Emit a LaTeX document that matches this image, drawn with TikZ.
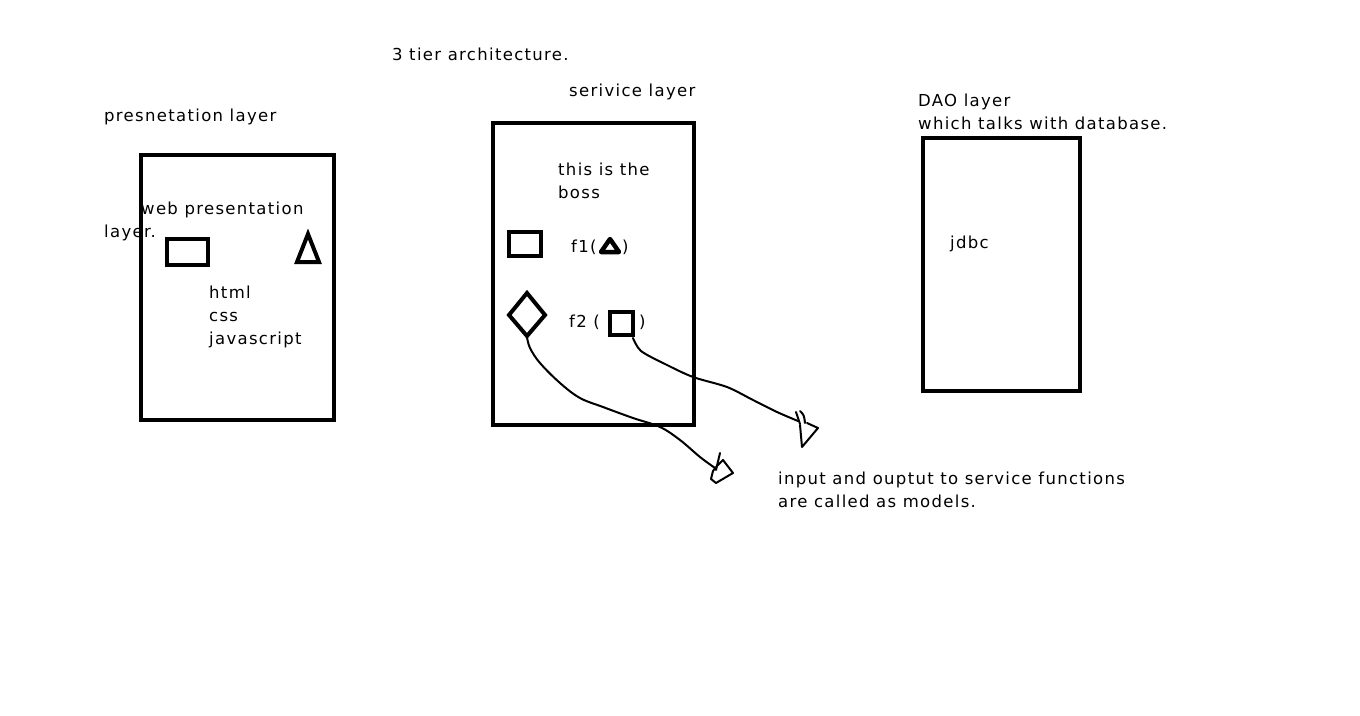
\documentclass[tikz,border=0pt]{standalone}
\usepackage{fontspec}
\setmainfont{DejaVu Sans}[LetterSpace=8]

\tikzset{
    layerbox/.style={line width=4.5pt},
    icon/.style={line width=4pt},
    scrawl/.style={line width=2pt, line join=round, line cap=round},
    txt/.style={anchor=base west, inner sep=0pt, font=\fontsize{16.5}{23}\selectfont},
}

\begin{document}
\begin{tikzpicture}[x=1pt,y=-1pt]
    \useasboundingbox[fill=white] (0,0) rectangle (1360,715);

    % headings
    \node[txt] (title) at (392,60) {3 tier architecture.};
    \node[txt] (prestitle) at (104,121) {presnetation layer};
    \node[txt] (servtitle) at (569,96) {serivice layer};
    \node[txt] (daotitle) at (918,106) {DAO layer};
    \node[txt] (daonote) at (918,129) {which talks with database.};

    % the three layers
    \draw[layerbox] (141,155) rectangle (334,420);
    \draw[layerbox] (493,123) rectangle (694,425);
    \draw[layerbox] (923,138) rectangle (1080,391);

    % presentation layer
    \node[txt] (web) at (141,214) {web presentation};
    \node[txt] (webb) at (104,237) {layer.};
    \draw[icon] (167,239) rectangle (208,265);
    \draw[icon] (308,234) -- (319,262) -- (297,262) -- cycle;
    \node[txt] (html) at (209,298) {html};
    \node[txt] (css) at (209,321) {css};
    \node[txt] (js) at (209,344) {javascript};

    % service layer
    \node[txt] (boss) at (558,175) {this is the};
    \node[txt] (bossb) at (558,198) {boss};
    \draw[icon] (509,232) rectangle (541,256);
    \node[txt] (fone) at (571,252) {f1(};
    \draw[icon, line width=4.5pt, line join=round] (610,239) -- (619,252) -- (601,252) -- cycle;
    \node[txt] (fonec) at (622,252) {)};
    \draw[icon] (527,293) -- (545,315) -- (527,336) -- (509,315) -- cycle;
    \node[txt] (ftwo) at (569,327) {f2 (};
    \draw[icon] (610,312) rectangle (633,335);
    \node[txt] (ftwoc) at (639,327) {)};

    % DAO layer
    \node[txt] (jdbc) at (950,248) {jdbc};

    % models
    \node[txt] (models) at (778,484) {input and ouptut to service functions};
    \node[txt] (modelsb) at (778,507) {are called as models.};

    \coordinate (dia) at (527,337);
    \coordinate (sq) at (633,338);
    \coordinate (tipa) at (715,468);
    \coordinate (tipb) at (798,421);

    \draw[scrawl] plot[smooth, tension=0.6] coordinates {(dia) (530,348) (540,363) (560,383) (580,398)
        (603,407) (633,418) (660,427) (680,440) (700,457) (tipa)};
    \draw[scrawl] (717,466) -- (723,460) -- (733,473) -- (716,483) -- (711,479) -- (713,471) -- (717,466);
    \draw[scrawl] (720,453) -- (716,470);

    \draw[scrawl] plot[smooth, tension=0.5] coordinates {(sq) (641,351) (665,364) (693,377) (727,387)
        (753,400) (777,412) (tipb)};
    \draw[scrawl] (800,425) -- (802,447) -- (818,428) -- (807,423);
    \draw[scrawl] (796,412) -- (800,424);
    \draw[scrawl] (800,411) .. controls (804,415) .. (805,423);
\end{tikzpicture}
\end{document}
